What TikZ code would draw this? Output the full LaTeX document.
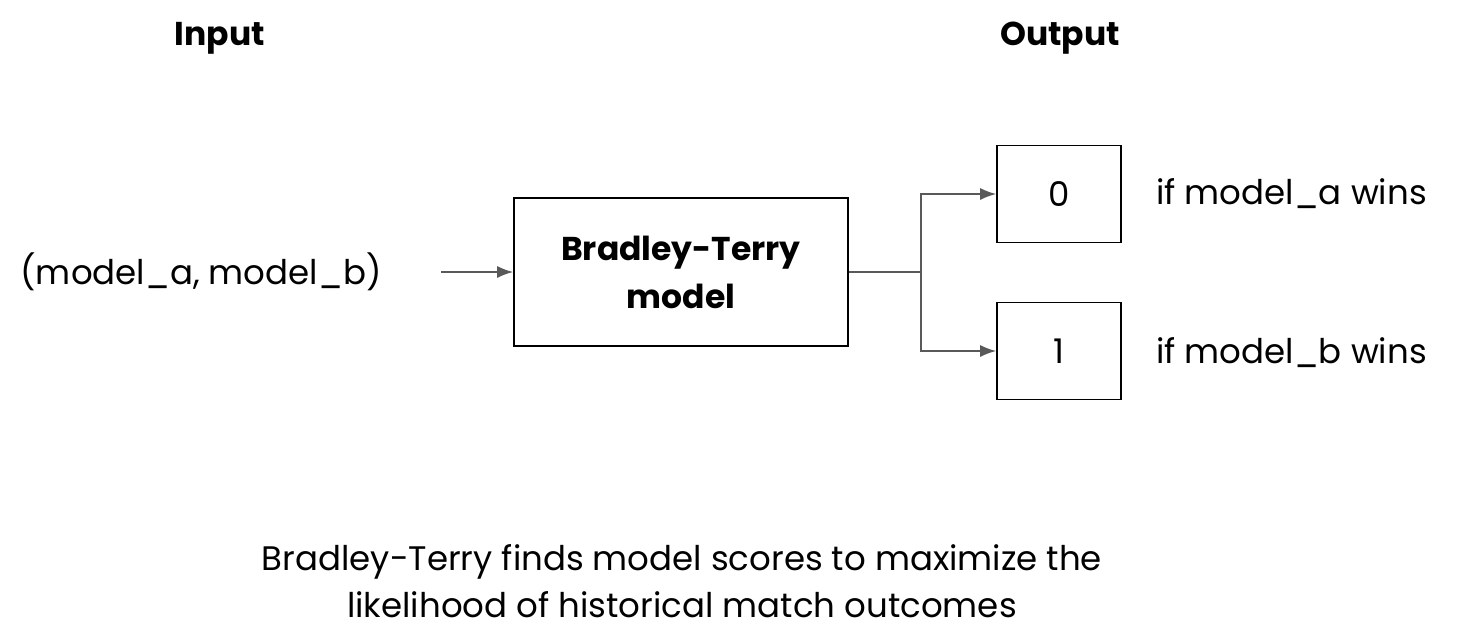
\documentclass[tikz,border=0pt]{standalone}
\usepackage{fontspec}
\setmainfont{Poppins}
\usetikzlibrary{arrows.meta}
\usetikzlibrary{positioning}
\definecolor{linegray}{RGB}{89,89,89}
\tikzset{
  txt/.style={font=\fontsize{34}{47}\selectfont, inner sep=0pt},
  hdr/.style={txt, font=\fontsize{33}{46}\selectfont\bfseries},
  blk/.style={draw=black, line width=1.6pt, inner sep=0pt, font=\fontsize{34}{46}\selectfont},
  conn/.style={draw=linegray, line width=1.6pt},
  arr/.style={conn, -{Latex[length=16pt,width=12pt]}}
}
\begin{document}
\begin{tikzpicture}[x=1pt,y=-1pt]
\useasboundingbox (0,0) rectangle (1468,640);

% Headings
\node[hdr] (input) at (220,38) {Input};
\node[hdr] (output) at (1060,38) {Output};

% Blocks
\node[blk, minimum width=334pt, minimum height=148pt, align=center, font=\fontsize{33}{48}\selectfont\bfseries] (bt) at (681,272) {Bradley-Terry\\model};
\node[blk, minimum width=124pt, minimum height=97pt] (zero) at (1059,194) {0};
\node[blk, minimum width=124pt, minimum height=97pt] (one) at (1059,351) {1};

% Text Node
\node[txt] (pair) at (201,272) {(model\_a, model\_b)};
\node[txt, anchor=west] (awins) at (1156,194) {if model\_a wins};
\node[txt, anchor=west] (bwins) at (1156,353) {if model\_b wins};
\node[txt, align=center] (note) at (682,581) {Bradley-Terry finds model scores to maximize the\\likelihood of historical match outcomes};

% Connectors
\coordinate (src) at (441,272);
\coordinate (split) at (921,272);
\draw[arr] (src) -- (bt.west);
\draw[conn] (bt.east) -- (split);
\draw[arr] (split) |- (zero.west);
\draw[arr] (split) |- (one.west);
\end{tikzpicture}
\end{document}
